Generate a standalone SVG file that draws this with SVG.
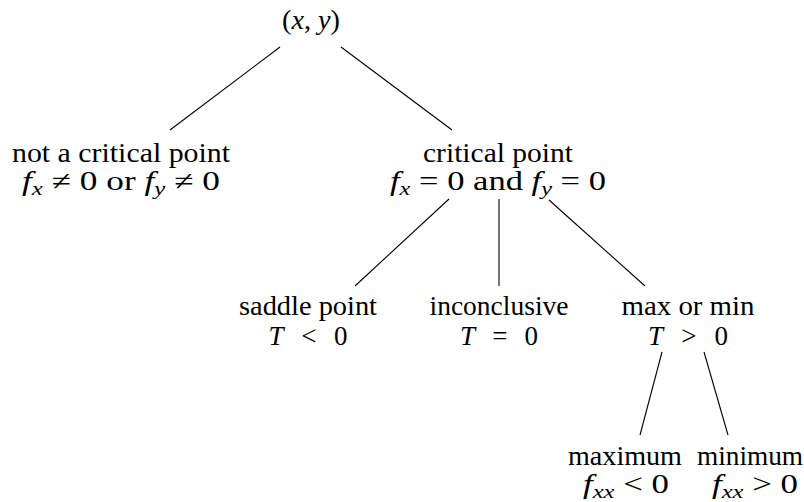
<svg xmlns="http://www.w3.org/2000/svg" width="804" height="502" viewBox="0 0 804 502">
<style>
text{font-family:"Liberation Serif","DejaVu Serif",serif;font-size:27px;fill:#000;text-anchor:middle}
.i{font-style:italic}
.s{font-style:italic;font-size:19px}
.edge{stroke:#000;stroke-width:1.1;fill:none}
</style>
<rect width="804" height="502" fill="#fff"/>
<g id="connectors">
<line class="edge" x1="280" y1="47" x2="170" y2="130"/>
<line class="edge" x1="341" y1="47" x2="452" y2="130"/>
<line class="edge" x1="449" y1="199" x2="355" y2="286"/>
<line class="edge" x1="499" y1="199" x2="499" y2="286"/>
<line class="edge" x1="549" y1="200" x2="645" y2="286"/>
<line class="edge" x1="662" y1="352" x2="640" y2="435"/>
<line class="edge" x1="704" y1="352" x2="728" y2="435"/>
</g>
<g id="root"><text x="311" y="29" textLength="58" lengthAdjust="spacingAndGlyphs">(<tspan class="i">x</tspan>, <tspan class="i">y</tspan>)</text></g>
<g id="not-critical">
<text x="121" y="162" textLength="218" lengthAdjust="spacingAndGlyphs">not a critical point</text>
<text x="121" y="190" textLength="198" lengthAdjust="spacingAndGlyphs"><tspan class="i">f</tspan><tspan class="s" dy="5">x</tspan><tspan dy="-5"> ≠ 0 or </tspan><tspan class="i">f</tspan><tspan class="s" dy="5">y</tspan><tspan dy="-5"> ≠ 0</tspan></text>
</g>
<g id="critical">
<text x="498" y="162" textLength="150" lengthAdjust="spacingAndGlyphs">critical point</text>
<text x="498" y="190" textLength="216" lengthAdjust="spacingAndGlyphs"><tspan class="i">f</tspan><tspan class="s" dy="5">x</tspan><tspan dy="-5"> = 0 and </tspan><tspan class="i">f</tspan><tspan class="s" dy="5">y</tspan><tspan dy="-5"> = 0</tspan></text>
</g>
<g id="saddle">
<text x="308" y="315" textLength="138" lengthAdjust="spacingAndGlyphs">saddle point</text>
<text x="308" y="345" textLength="79" lengthAdjust="spacing"><tspan class="i">T</tspan>&#160;&#160;&lt;&#160;&#160;0</text>
</g>
<g id="inconclusive">
<text x="499" y="315" textLength="139" lengthAdjust="spacingAndGlyphs">inconclusive</text>
<text x="499" y="345" textLength="78" lengthAdjust="spacing"><tspan class="i">T</tspan>&#160;&#160;=&#160;&#160;0</text>
</g>
<g id="maxmin">
<text x="688" y="315" textLength="133" lengthAdjust="spacingAndGlyphs">max or min</text>
<text x="688" y="345" textLength="80" lengthAdjust="spacing"><tspan class="i">T</tspan>&#160;&#160;&gt;&#160;&#160;0</text>
</g>
<g id="maximum">
<text x="625" y="465" textLength="114" lengthAdjust="spacingAndGlyphs">maximum</text>
<text x="626" y="493" textLength="86" lengthAdjust="spacingAndGlyphs"><tspan class="i">f</tspan><tspan class="s" dy="5">xx</tspan><tspan dy="-5">&#160;&lt;&#160;0</tspan></text>
</g>
<g id="minimum">
<text x="750" y="465" textLength="106" lengthAdjust="spacingAndGlyphs">minimum</text>
<text x="755" y="493" textLength="86" lengthAdjust="spacingAndGlyphs"><tspan class="i">f</tspan><tspan class="s" dy="5">xx</tspan><tspan dy="-5">&#160;&gt;&#160;0</tspan></text>
</g>
</svg>
